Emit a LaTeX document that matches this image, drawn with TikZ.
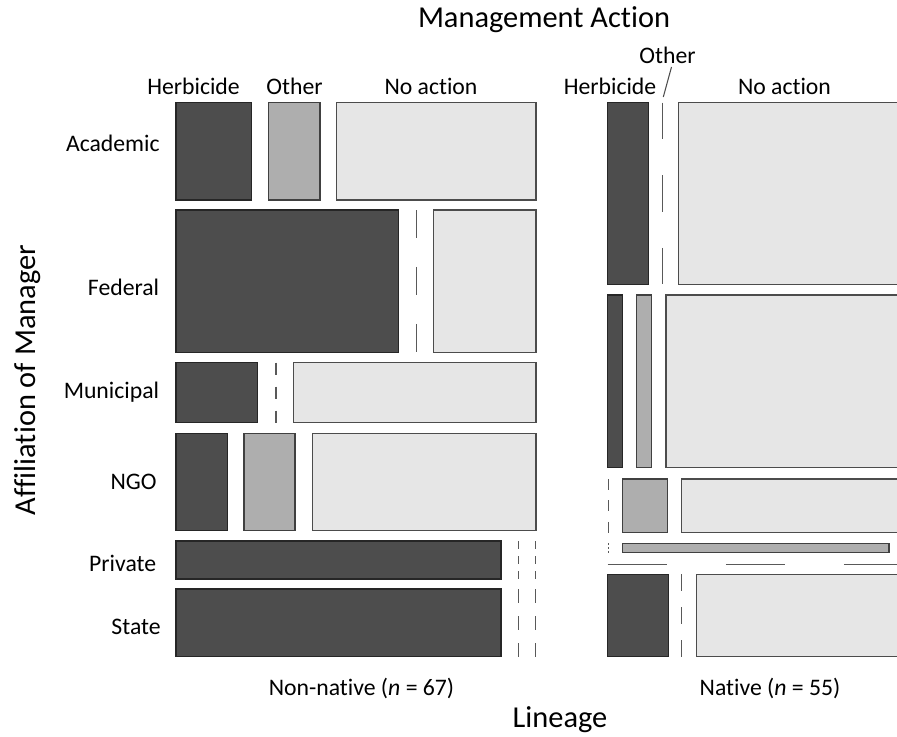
\documentclass[tikz,border=0pt]{standalone}
\usepackage{fontspec}
\setmainfont{Carlito}[Ligatures={NoCommon}]
\usetikzlibrary{positioning}

\definecolor{herbgray}{HTML}{4D4D4D}
\definecolor{othgray}{HTML}{AEAEAE}
\definecolor{nagray}{HTML}{E6E6E6}

% empty cells: a line cut in five equal parts
\newcommand{\zerov}[3]{\foreach \k in {0,2,4} {\draw[zero] ({#1},{#2+\k*(#3-#2)/5}) -- ({#1},{#2+(\k+1)*(#3-#2)/5});}}
\newcommand{\zeroh}[3]{\foreach \k in {0,2,4} {\draw[zero] ({#2+\k*(#3-#2)/5},{#1}) -- ({#2+(\k+1)*(#3-#2)/5},{#1});}}

\begin{document}
\begin{tikzpicture}[
  x=0.02cm,y=-0.02cm,
  herb/.style={draw=black!85, fill=herbgray, line width=0.6pt},
  oth/.style={draw=black!75, fill=othgray, line width=0.6pt},
  noact/.style={draw=black!70, fill=nagray, line width=0.6pt},
  zero/.style={draw=black!65, line width=0.9pt},
  lead/.style={draw=black!70, line width=0.6pt},
  lab/.style={font=\fontsize{13.5}{16}\selectfont, inner sep=0pt},
  ttl/.style={font=\fontsize{17.3}{20}\selectfont, inner sep=0pt}
]
\useasboundingbox (0,0) rectangle (897,737);

% titles
\node[ttl] (mgmt) at (544,20) {Management Action};
\node[ttl] (lin) at (560,720) {Lineage};
\node[ttl, rotate=90] (aff) at (28,380) {Affiliation of Manager};

% action labels
\node[lab] (herbL) at (193.5,86) {Herbicide};
\node[lab] (othL) at (294.5,86) {Other};
\node[lab] (naL) at (431,86) {No action};
\node[lab] (herbR) at (610,86) {Herbicide};
\node[lab] (othR) at (667.5,55) {Other};
\node[lab] (naR) at (784.5,86) {No action};
\coordinate (othtop) at (671.5,67);
\coordinate (othtip) at (663.3,97);
\draw[lead] (othtop) -- (othtip);

% affiliation labels
\node[lab, anchor=east] (acad) at (160,143) {Academic};
\node[lab, anchor=east] (fed) at (159.5,287) {Federal};
\node[lab, anchor=east] (mun) at (159.5,392) {Municipal};
\node[lab, anchor=east] (ngo) at (157,482) {NGO};
\node[lab, anchor=east] (priv) at (156.5,563) {Private};
\node[lab, anchor=east] (state) at (161,627) {State};

% lineage labels
\node[lab] (nonnat) at (361.5,688) {Non-native (\textit{n} = 67)};
\node[lab] (nat) at (770,688) {Native (\textit{n} = 55)};

% non-native
\draw[herb] (176,102.7) rectangle (251.7,200);
\draw[oth] (268.3,102.7) rectangle (320,200);
\draw[noact] (336.7,102.7) rectangle (536,200);

\draw[herb] (176,210) rectangle (398.3,352.3);
\zerov{416.7}{210}{352.3}
\draw[noact] (433.3,210) rectangle (536,352.3);

\draw[herb] (176,362.7) rectangle (257.7,422.7);
\zerov{276}{362.7}{422.7}
\draw[noact] (293.3,362.7) rectangle (536,422.7);

\draw[herb] (176,433.3) rectangle (227.3,530.7);
\draw[oth] (244,433.3) rectangle (295,530.7);
\draw[noact] (312.3,433.3) rectangle (536,530.7);

\draw[herb] (176,541) rectangle (501,579);
\zerov{518.3}{541}{579}
\zerov{535.7}{541}{579}

\draw[herb] (176,589) rectangle (501,656.7);
\zerov{518.3}{589}{656.7}
\zerov{535.7}{589}{656.7}

% native
\begin{scope}
\clip (0,0) rectangle (897,737);
\draw[herb] (607.7,102.7) rectangle (648.3,284.3);
\zerov{662.7}{102.7}{284.3}
\draw[noact] (678.3,102.7) rectangle (903,284.3);

\draw[herb] (607.7,295) rectangle (622.3,467.3);
\draw[oth] (636.7,295) rectangle (651.7,467.3);
\draw[noact] (666,295) rectangle (903,467.3);

\zerov{608.3}{479}{532.7}
\draw[oth] (622.7,479) rectangle (667.7,532.7);
\draw[noact] (681.7,479) rectangle (903,532.7);

\zerov{608.3}{543.3}{552.7}
\draw[oth] (622.7,543.3) rectangle (889,552.7);

\zeroh{564.3}{607.7}{903}

\draw[herb] (607.7,574.3) rectangle (668.3,656.7);
\zerov{681.7}{574.3}{656.7}
\draw[noact] (696.7,574.3) rectangle (903,656.7);
\end{scope}
\end{tikzpicture}
\end{document}
